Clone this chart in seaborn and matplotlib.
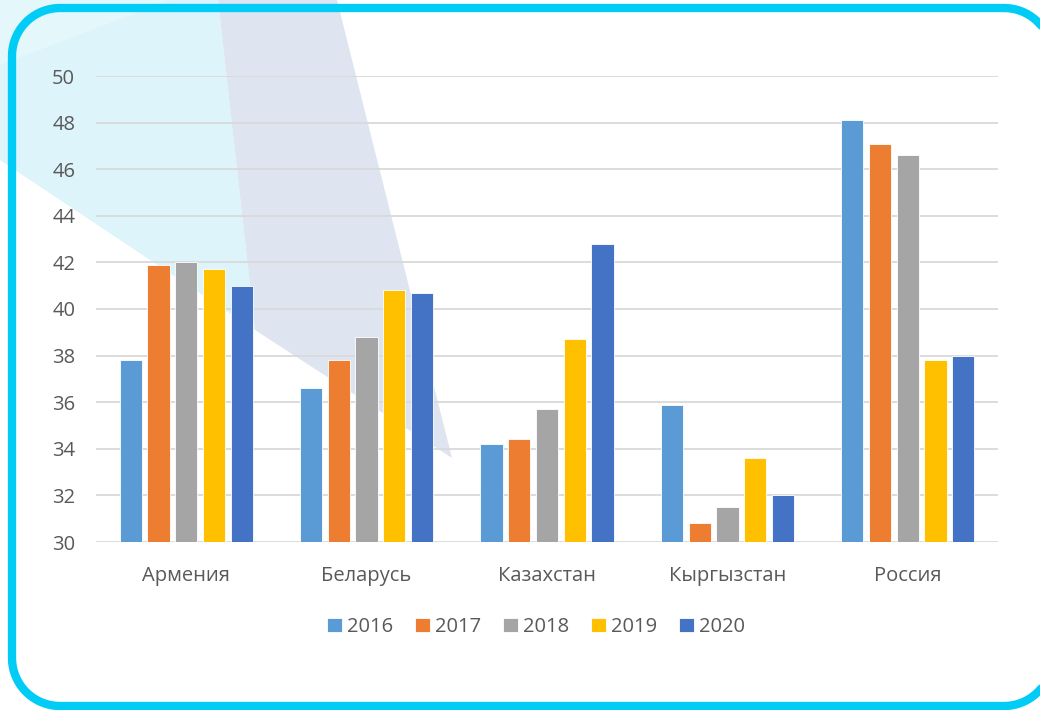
import numpy as np
import pandas as pd
import matplotlib.pyplot as plt
import seaborn as sns
from matplotlib.patches import Polygon

countries = ["Армения", "Беларусь", "Казахстан", "Кыргызстан", "Россия"]
years = ["2016", "2017", "2018", "2019", "2020"]
v2016 = [37.8, 36.6, 34.2, 35.9, 48.1]
v2017 = [41.9, 37.8, 34.4, 30.8, 47.1]
v2018 = [42.0, 38.8, 35.7, 31.5, 46.6]
v2019 = [41.7, 40.8, 38.7, 33.6, 37.8]
v2020 = [41.0, 40.7, 42.8, 32.0, 38.0]
colors = ["#5B9BD5", "#ED7D31", "#A5A5A5", "#FFC000", "#4472C4"]

rows = []
for year, vals in zip(years, [v2016, v2017, v2018, v2019, v2020]):
    for c, v in zip(countries, vals):
        rows.append({"country": c, "year": year, "value": v})
df = pd.DataFrame(rows)

sns.set_style("white")
plt.rcParams['font.family'] = ['Open Sans', 'DejaVu Sans']

W, H = 1040, 710
fig = plt.figure(figsize=(10.4, 7.1), dpi=100)


def px(x, y):
    # пиксели сверху-вниз -> координаты фона
    return (x, H - y)


def rounded_rect(x0, y0, x1, y1, r, n=20):
    # контур скруглённого прямоугольника (в пикселях сверху-вниз)
    pts = []
    corners = [(x1 - r, y0 + r, -90, 0), (x1 - r, y1 - r, 0, 90),
               (x0 + r, y1 - r, 90, 180), (x0 + r, y0 + r, 180, 270)]
    for cx, cy, a0, a1 in corners:
        a = np.radians(np.linspace(a0, a1, n))
        for t in a:
            pts.append(px(cx + r * np.cos(t), cy + r * np.sin(t)))
    pts.append(pts[0])
    return np.array(pts)


# фон: декоративные фигуры и рамка
bg = fig.add_axes([0, 0, 1, 1], zorder=0)
bg.set_xlim(0, W)
bg.set_ylim(0, H)
bg.axis("off")
bg.add_patch(Polygon([px(0, 0), px(218, 0), px(255, 330), px(0, 160)], closed=True,
                     facecolor="#DDF4FA", edgecolor="none"))
bg.add_patch(Polygon([px(0, 0), px(170, 0), px(0, 65)], closed=True,
                     facecolor="#E4F8FC", edgecolor="none"))
bg.add_patch(Polygon([px(218, 0), px(337, 0), px(452, 458), px(255, 330)], closed=True,
                     facecolor="#DFE5F0", edgecolor="none"))
border = rounded_rect(12, 8, 1052, 706, 48)
bg.plot(border[:, 0], border[:, 1], color="#00CCF5", linewidth=6,
        solid_joinstyle="round")

ax = fig.add_axes([96 / W, 1 - 542 / H, 902 / W, 466 / H], zorder=1)
ax.patch.set_alpha(0)
sns.barplot(data=df, x="country", y="value", hue="year", palette=colors,
            width=0.77, gap=0.2, ax=ax, edgecolor="white", linewidth=0.6,
            saturation=1, zorder=3)

ax.set_ylim(30, 50)
ax.set_xlim(-0.5, 4.5)
ax.set_yticks(range(30, 51, 2))
ax.yaxis.grid(True, color="#D9D9D9", linewidth=1.3, zorder=0)
ax.set_axisbelow(True)
for s in ax.spines.values():
    s.set_visible(False)
ax.set_xlabel("")
ax.set_ylabel("")
ax.tick_params(axis="both", length=0, labelsize=14.5, labelcolor="#595959")
ax.tick_params(axis="x", pad=17)
ax.tick_params(axis="y", pad=15)

ax.legend(loc="center", bbox_to_anchor=(536 / W, 1 - 627 / H),
          bbox_transform=fig.transFigure, ncol=5, frameon=False,
          fontsize=14.5, labelcolor="#595959", handlelength=0.75,
          handleheight=0.75, handletextpad=0.25, columnspacing=1.08)

plt.savefig("out.png", dpi=100)
plt.close()
